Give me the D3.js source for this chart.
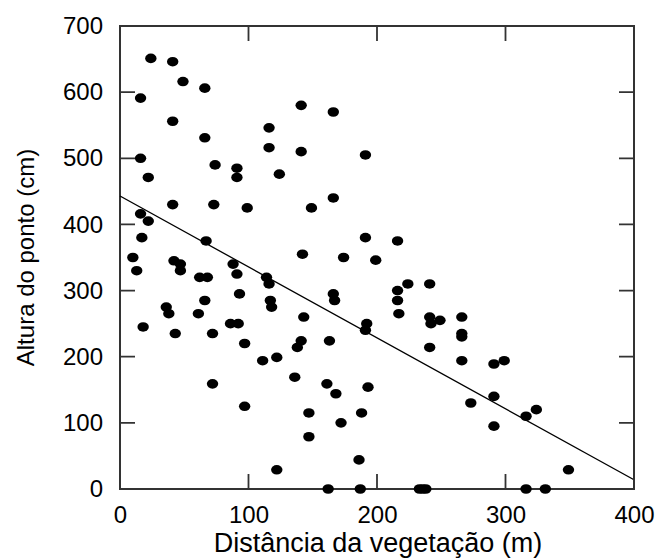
<!DOCTYPE html>
<html>
<head>
<meta charset="utf-8">
<script src="https://cdn.jsdelivr.net/npm/d3@7"></script>
<style>
  body { margin: 0; background: #fff; }
  text { font-family: "Liberation Sans", Arial, sans-serif; }
</style>
</head>
<body>
<div id="chart"></div>
<script>
// distance (m) / height (cm) of each point
const distancia = [24, 41, 49, 66, 16, 41, 66, 116, 116, 16, 74, 91, 91, 22, 124, 41, 73, 99, 16, 22,
  17, 67, 141, 166, 141, 191, 166, 149, 191, 216, 142, 174, 199, 10, 42, 47, 13, 47, 62, 68,
  88, 91, 93, 114, 116, 117, 118, 36, 38, 18, 66, 61, 43, 72, 86, 92, 97, 111, 122, 143,
  141, 138, 136, 72, 97, 163, 161, 168, 147, 147, 172, 166, 167, 192, 191, 193, 188, 186, 122, 162,
  187, 216, 224, 216, 217, 241, 241, 242, 249, 241, 266, 266, 266, 266, 291, 299, 273, 291, 291, 316,
  324, 349, 233, 235.5, 238, 316, 331];
const altura = [651, 646, 616, 606, 591, 556, 531, 546, 516, 500, 490, 485, 471, 471, 476, 430, 430, 425, 416, 405,
  380, 375, 580, 570, 510, 505, 440, 425, 380, 375, 355, 350, 346, 350, 345, 340, 330, 330, 320, 320,
  340, 325, 295, 320, 310, 285, 275, 275, 265, 245, 285, 265, 235, 235, 250, 250, 220, 194, 199, 260,
  224, 214, 169, 159, 125, 224, 159, 144, 115, 79, 100, 295, 285, 250, 240, 154, 115, 44, 29, 0,
  0, 300, 310, 285, 265, 310, 260, 250, 255, 214, 260, 235, 230, 194, 189, 194, 130, 140, 95, 110,
  120, 29, 0, 0, 0, 0, 0];

// fitted line end points
const linhaX = [0, 400];
const linhaY = [443, 14];

const xTicks = [0, 100, 200, 300, 400];
const yTicks = [0, 100, 200, 300, 400, 500, 600, 700];

const width = 657, height = 560;
const mLeft = 120, mRight = 634, mTop = 26, mBottom = 489;

const svg = d3.select("#chart").append("svg")
  .attr("width", width)
  .attr("height", height);

const x = d3.scaleLinear().domain([0, 400]).range([mLeft, mRight]);
const y = d3.scaleLinear().domain([0, 700]).range([mBottom, mTop]);

const tickLen = 15;
const axisColor = "#333";

const xAxis = d3.axisBottom(x).tickValues(xTicks).tickSize(0).tickPadding(17);
const yAxis = d3.axisLeft(y).tickValues(yTicks).tickSize(0).tickPadding(17);

function styleAxis(g) {
  g.select(".domain").remove();
  g.selectAll(".tick line").remove();
  g.selectAll(".tick text").attr("fill", "#000").style("font-size", "24px")
    .style("font-family", "'Liberation Sans', Arial, sans-serif");
}

svg.append("g").attr("transform", "translate(0," + mBottom + ")").call(xAxis).call(styleAxis);
svg.append("g").attr("transform", "translate(" + mLeft + ",0)").call(yAxis).call(styleAxis);

svg.append("rect")
  .attr("x", mLeft).attr("y", mTop)
  .attr("width", mRight - mLeft).attr("height", mBottom - mTop)
  .attr("fill", "none").attr("stroke", axisColor).attr("stroke-width", 2);

// regression line
svg.append("line")
  .attr("x1", x(linhaX[0])).attr("y1", y(linhaY[0]))
  .attr("x2", x(linhaX[1])).attr("y2", y(linhaY[1]))
  .attr("stroke", "#000").attr("stroke-width", 1.3);

svg.selectAll("ellipse.ponto")
  .data(distancia)
  .enter()
  .append("ellipse")
  .attr("class", "ponto")
  .attr("cx", d => x(d))
  .attr("cy", (d, i) => y(altura[i]))
  .attr("rx", 5.7)
  .attr("ry", 4.8)
  .attr("fill", "#000");

// inward tick marks on all four sides, one path
const tp = d3.path();
xTicks.forEach(d => {
  tp.moveTo(x(d), mBottom); tp.lineTo(x(d), mBottom - tickLen);
  tp.moveTo(x(d), mTop); tp.lineTo(x(d), mTop + tickLen);
});
yTicks.forEach(d => {
  tp.moveTo(mLeft, y(d)); tp.lineTo(mLeft + tickLen, y(d));
  tp.moveTo(mRight, y(d)); tp.lineTo(mRight - tickLen, y(d));
});
svg.append("path")
  .attr("d", tp.toString())
  .attr("fill", "none")
  .attr("stroke", axisColor)
  .attr("stroke-width", 1.8);

svg.append("text")
  .attr("x", (mLeft + mRight) / 2 + 1)
  .attr("y", 552)
  .attr("text-anchor", "middle")
  .style("font-size", "27px")
  .text("Distância da vegetação (m)");

svg.append("text")
  .attr("transform", "translate(34," + ((mTop + mBottom) / 2) + ") rotate(-90)")
  .attr("text-anchor", "middle")
  .style("font-size", "24px")
  .text("Altura do ponto (cm)");
</script>
</body>
</html>
